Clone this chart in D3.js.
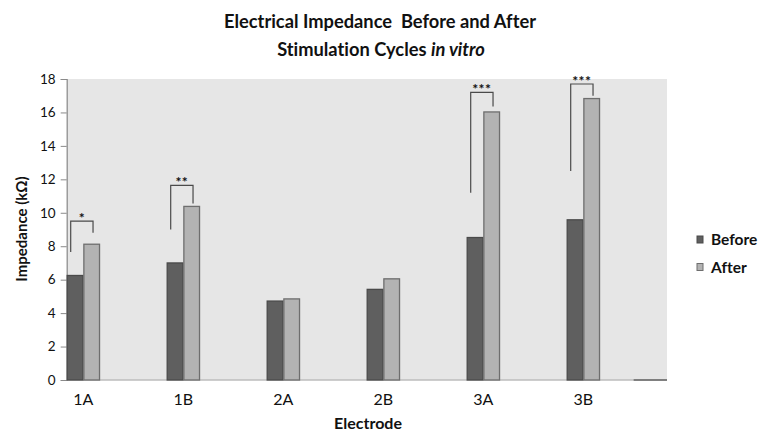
<!DOCTYPE html>
<html>
<head>
<meta charset="utf-8">
<script src="https://cdn.jsdelivr.net/npm/d3@7"></script>
<style>
  body { margin: 0; background: #fff; }
  svg { display: block; }
  text { font-family: Lato, "Open Sans", sans-serif; fill: #111; font-variant-ligatures: none; }
</style>
</head>
<body>
<svg id="chart" width="761" height="435"></svg>
<script>
// ---- data ----
const categories = ["1A", "1B", "2A", "2B", "3A", "3B"];
const seriesNames = ["Before", "After"];
const beforeValues = [6.25, 7.0, 4.72, 5.42, 8.52, 9.58];
const afterValues  = [8.12, 10.38, 4.85, 6.05, 16.03, 16.83];
const yTicks = [0, 2, 4, 6, 8, 10, 12, 14, 16, 18];
// significance brackets: category, top level, left-leg bottom, right-leg bottom, label
const bracketCats   = ["1A", "1B", "3A", "3B"];
const bracketTop    = [9.5, 11.64, 17.2, 17.7];
const bracketLeft   = [7.65, 9.0, 11.2, 12.5];
const bracketRight  = [8.8, 10.55, 16.35, 17.0];
const bracketLabels = ["*", "**", "***", "***"];

// ---- layout ----
const svg = d3.select("#chart");
const L = 66.7, R = 667, T = 79, B = 380;
const colors = { Before: "#5f5f5f", After: "#b3b3b3" };
const strokes = { Before: "#4a4a4a", After: "#6e6e6e" };

const y = d3.scaleLinear().domain([0, 18]).range([B, T]);
const x0 = d3.scaleBand().domain(categories)
  .range([L, L + 5 * 100 + 100 / 3]).paddingInner(2 / 3).paddingOuter(0);
const x1 = d3.scaleBand().domain(seriesNames).range([0, x0.bandwidth()]);

// plot background
svg.append("rect").attr("x", L).attr("y", T).attr("width", R - L).attr("height", B - T)
  .attr("fill", "#e6e6e6");

// title
const title = svg.append("text").attr("text-anchor", "middle")
  .style("font-weight", "bold").style("font-size", "18.3px");
title.append("tspan").attr("x", 380).attr("y", 28).text("Electrical Impedance\u00a0\u00a0Before and After");
const t2 = title.append("tspan").attr("x", 381).attr("y", 55.5);
t2.append("tspan").text("Stimulation Cycles ");
t2.append("tspan").style("font-style", "italic").text("in vitro");

// y axis
const yAxis = d3.axisLeft(y).tickValues(yTicks).tickSize(6).tickPadding(5);
const gy = svg.append("g").attr("transform", `translate(${L},0)`).call(yAxis);
gy.select(".domain").attr("stroke", "#8a8a8a").attr("stroke-width", 1.2);
gy.selectAll(".tick line").attr("stroke", "#8a8a8a");
gy.selectAll(".tick text").style("font-size", "13.5px").style("font-family", "Lato, sans-serif").attr("fill", "#111");

// bottom axis line
svg.append("line").attr("x1", L).attr("x2", R).attr("y1", B).attr("y2", B)
  .attr("stroke", "#bdbdbd").attr("stroke-width", 1.5);
// trailing empty-category segment
svg.append("line").attr("x1", R - x0.bandwidth()).attr("x2", R).attr("y1", B).attr("y2", B)
  .attr("stroke", "#666").attr("stroke-width", 1.5);

// bars
const rows = categories.map((c, i) => ({ cat: c, Before: beforeValues[i], After: afterValues[i] }));
const groups = svg.append("g").selectAll("g").data(rows).join("g")
  .attr("transform", d => `translate(${x0(d.cat)},0)`);
groups.selectAll("rect").data(d => seriesNames.map(k => ({ key: k, value: d[k] }))).join("rect")
  .attr("x", d => x1(d.key) + 0.5)
  .attr("width", x1.bandwidth() - 1)
  .attr("y", d => y(d.value))
  .attr("height", d => B - y(d.value))
  .attr("fill", d => colors[d.key])
  .attr("stroke", d => strokes[d.key])
  .attr("stroke-width", 1.3);

// x labels
const xAxis = d3.axisBottom(x0).tickSize(0).tickPadding(14);
const gx = svg.append("g").attr("transform", `translate(0,${B})`).call(xAxis);
gx.select(".domain").remove();
gx.selectAll(".tick text").style("font-size", "16px").style("font-family", "Lato, sans-serif").attr("fill", "#111");

// brackets
const bw = x0.bandwidth();
bracketCats.forEach((c, i) => {
  const xl = x0(c) + bw * 0.12, xr = x0(c) + bw * 0.79;
  svg.append("path")
    .attr("d", `M${xl},${y(bracketLeft[i])}V${y(bracketTop[i])}H${xr}V${y(bracketRight[i])}`)
    .attr("fill", "none").attr("stroke", "#4a4a4a").attr("stroke-width", 1.2);
  svg.append("text").attr("x", (xl + xr) / 2).attr("y", y(bracketTop[i]) + 2)
    .attr("text-anchor", "middle").style("font-size", "14px").style("font-weight", "bold")
    .style("letter-spacing", "0.5px")
    .text(bracketLabels[i]);
});

// axis titles
svg.append("text").attr("x", 368).attr("y", 428.5).attr("text-anchor", "middle")
  .style("font-size", "16px").style("font-weight", "bold").text("Electrode");
svg.append("text").attr("transform", "translate(27,229) rotate(-90)").attr("text-anchor", "middle")
  .style("font-size", "15px").style("font-weight", "bold").text("Impedance (k\u03a9)");

// legend
const legend = svg.append("g").selectAll("g").data(seriesNames).join("g")
  .attr("transform", (d, i) => `translate(697,${236 + i * 27.5})`);
legend.append("rect").attr("width", 6).attr("height", 7)
  .attr("fill", d => colors[d]).attr("stroke", d => strokes[d]).attr("stroke-width", 1);
legend.append("text").attr("x", 14).attr("y", 9)
  .style("font-size", "15.5px").style("font-weight", "bold").text(d => d);
</script>
</body>
</html>
